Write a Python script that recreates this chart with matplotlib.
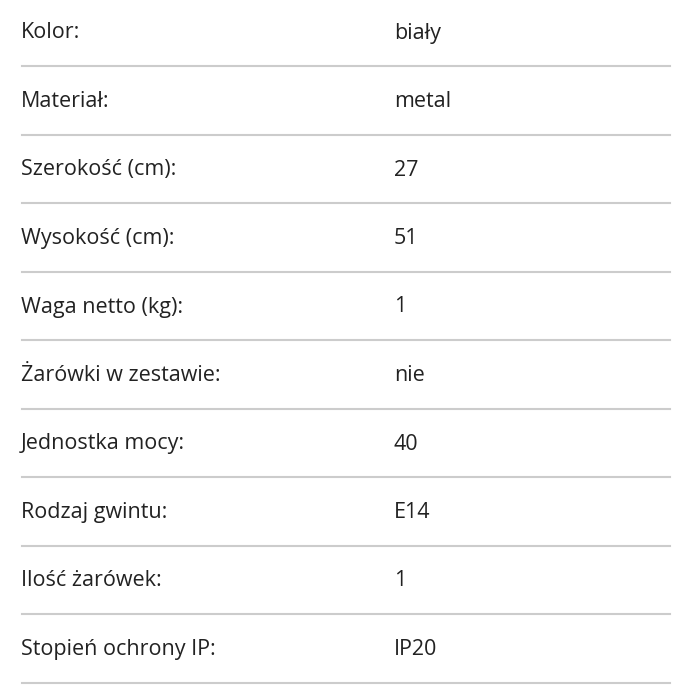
import matplotlib
matplotlib.use("Agg")
import matplotlib.pyplot as plt

labels = ["Kolor:", "Materiał:", "Szerokość (cm):", "Wysokość (cm):", "Waga netto (kg):",
          "Żarówki w zestawie:", "Jednostka mocy:", "Rodzaj gwintu:", "Ilość żarówek:", "Stopień ochrony IP:"]
values = ["biały", "metal", "27", "51", "1", "nie", "40", "E14", "1", "IP20"]

fig = plt.figure(figsize=(6.89, 7.0), dpi=100)
ax = fig.add_axes([0, 0, 1, 1])
ax.set_xlim(0, 689)
ax.set_ylim(700, 0)
ax.axis("off")
row_h = 68.5
for i, (l, v) in enumerate(zip(labels, values)):
    yc = 33 + i * row_h
    ax.text(21, yc, l, fontsize=15.5, family="Open Sans", color="#222222", va="center", ha="left")
    ax.text(394, yc, v, fontsize=15.5, family="Open Sans", color="#222222", va="center", ha="left")
    yl = 66 + i * row_h
    ax.plot([22, 670], [yl, yl], color="#cccccc", lw=1.5)
fig.savefig("out.png", dpi=100)
